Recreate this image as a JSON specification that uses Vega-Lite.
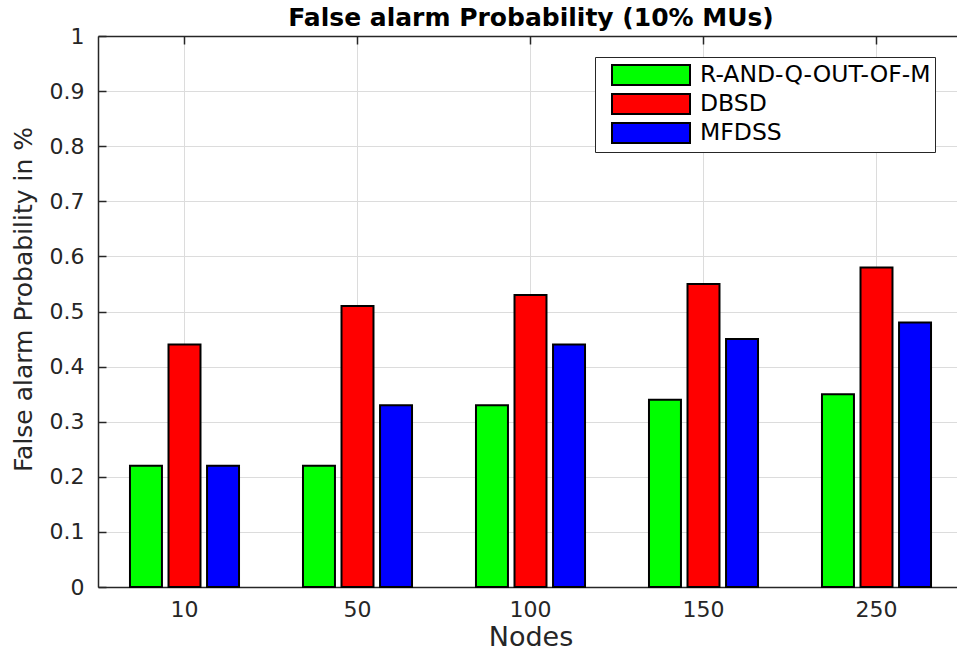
{
  "$schema": "https://vega.github.io/schema/vega-lite/v6.json",
  "width": 859,
  "height": 551,
  "autosize": {"type": "none"},
  "padding": {"left": 98, "top": 36, "right": 0, "bottom": 67},
  "background": "white",
  "config": {
    "view": {"stroke": null},
    "axis": {
      "labelFont": "DejaVu Sans",
      "titleFont": "DejaVu Sans",
      "labelColor": "#262626",
      "titleColor": "#262626",
      "labelFontSize": 22,
      "titleFontSize": 25,
      "titleFontWeight": "normal",
      "domainColor": "#262626",
      "domainWidth": 1.5,
      "tickColor": "#262626",
      "tickWidth": 1.5,
      "gridColor": "#dcdcdc",
      "gridWidth": 1,
      "gridOpacity": 1
    }
  },
  "data": {
    "values": [
      {"Nodes": "10", "Method": "R-AND-Q-OUT-OF-M", "value": 0.22},
      {"Nodes": "10", "Method": "DBSD", "value": 0.44},
      {"Nodes": "10", "Method": "MFDSS", "value": 0.22},
      {"Nodes": "50", "Method": "R-AND-Q-OUT-OF-M", "value": 0.22},
      {"Nodes": "50", "Method": "DBSD", "value": 0.51},
      {"Nodes": "50", "Method": "MFDSS", "value": 0.33},
      {"Nodes": "100", "Method": "R-AND-Q-OUT-OF-M", "value": 0.33},
      {"Nodes": "100", "Method": "DBSD", "value": 0.53},
      {"Nodes": "100", "Method": "MFDSS", "value": 0.44},
      {"Nodes": "150", "Method": "R-AND-Q-OUT-OF-M", "value": 0.34},
      {"Nodes": "150", "Method": "DBSD", "value": 0.55},
      {"Nodes": "150", "Method": "MFDSS", "value": 0.45},
      {"Nodes": "250", "Method": "R-AND-Q-OUT-OF-M", "value": 0.35},
      {"Nodes": "250", "Method": "DBSD", "value": 0.58},
      {"Nodes": "250", "Method": "MFDSS", "value": 0.48}
    ]
  },
  "resolve": {"axis": {"x": "independent"}},
  "layer": [
    {
      "mark": {"type": "bar", "stroke": "#000000", "strokeWidth": 2},
      "encoding": {
        "x": {
          "field": "Nodes",
          "type": "nominal",
          "sort": ["10", "50", "100", "150", "250"],
          "scale": {"range": [0, 865], "paddingInner": 0, "paddingOuter": 0},
          "axis": {
            "orient": "bottom",
            "title": "Nodes",
            "titleFontSize": 27,
            "labelAngle": 0,
            "tickSize": -8,
            "labelPadding": 20,
            "titlePadding": 4,
            "grid": true
          }
        },
        "xOffset": {
          "field": "Method",
          "type": "nominal",
          "sort": ["R-AND-Q-OUT-OF-M", "DBSD", "MFDSS"],
          "scale": {"paddingInner": 0.17, "paddingOuter": 0.83}
        },
        "y": {
          "field": "value",
          "type": "quantitative",
          "scale": {"domain": [0, 1], "nice": false},
          "axis": {
            "title": "False alarm Probability in %",
            "values": [0, 0.1, 0.2, 0.3, 0.4, 0.5, 0.6, 0.7, 0.8, 0.9, 1],
            "format": "~g",
            "tickSize": -8,
            "labelPadding": 22,
            "titlePadding": 13,
            "titleY": 263,
            "grid": true
          }
        },
        "color": {
          "field": "Method",
          "type": "nominal",
          "sort": ["R-AND-Q-OUT-OF-M", "DBSD", "MFDSS"],
          "scale": {
            "domain": ["R-AND-Q-OUT-OF-M", "DBSD", "MFDSS"],
            "range": ["#00ff00", "#ff0000", "#0000ff"]
          },
          "legend": {
            "title": null,
            "orient": "none",
            "legendX": 497,
            "legendY": 21,
            "direction": "vertical",
            "fillColor": "white",
            "strokeColor": "#262626",
            "padding": 4,
            "symbolType": "M-3,-0.77H3V0.77H-3Z",
            "symbolSize": 676,
            "symbolStrokeColor": "#000000",
            "symbolStrokeWidth": 2,
            "symbolOpacity": 1,
            "symbolOffset": 38,
            "labelOffset": 35,
            "labelFont": "DejaVu Sans",
            "labelFontSize": 23.5,
            "labelColor": "#000000",
            "labelLimit": 400,
            "rowPadding": -7
          }
        }
      }
    },
    {
      "mark": {"type": "bar", "opacity": 0},
      "encoding": {
        "x": {
          "field": "Nodes",
          "type": "nominal",
          "sort": ["10", "50", "100", "150", "250"],
          "scale": {"range": [0, 865], "paddingInner": 0, "paddingOuter": 0},
          "axis": {
            "orient": "top",
            "title": "False alarm Probability (10% MUs)",
            "titleFont": "DejaVu Sans",
            "titleFontSize": 25,
            "titleFontWeight": "bold",
            "titleColor": "#000000",
            "titleBaseline": "alphabetic",
            "titlePadding": 10,
            "labels": false,
            "tickSize": -8,
            "grid": false
          }
        },
        "y": {"field": "value", "type": "quantitative"}
      }
    }
  ]
}
